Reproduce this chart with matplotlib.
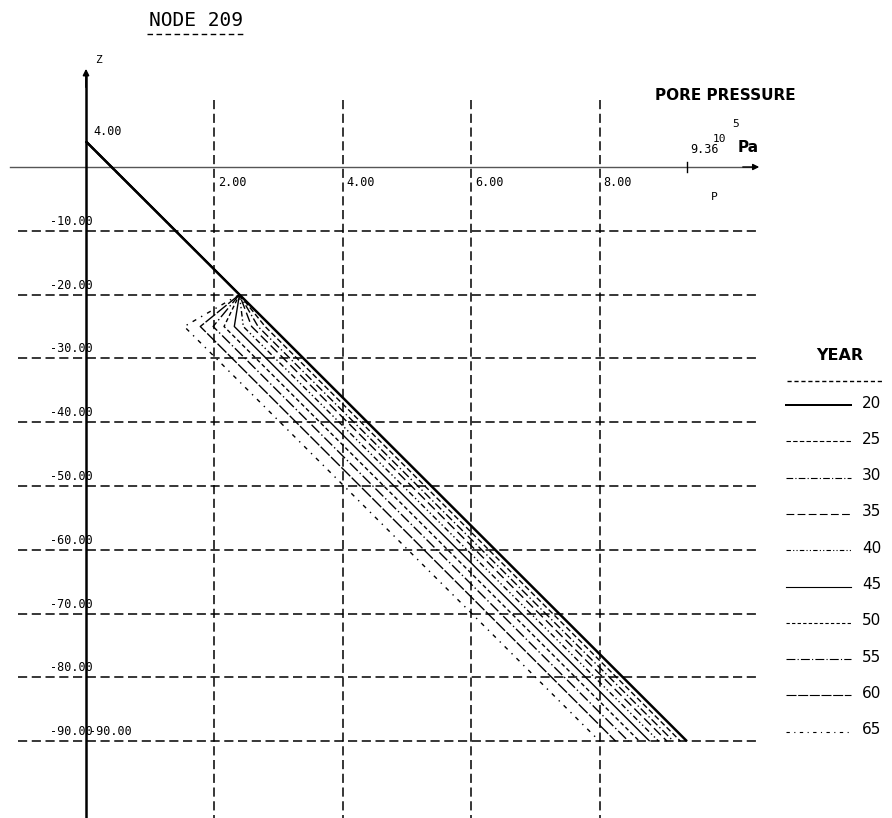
import matplotlib
matplotlib.use("Agg")
import matplotlib.pyplot as plt

# ---------------- data ----------------
years = [20, 25, 30, 35, 40, 45, 50, 55, 60, 65]
z_levels = [4.0, -20.0, -25.0, -90.0]
p_top = 0.0          # pressure at z = 4
p_apex = 2.39        # pressure at z = -20 (common to all years)
p_knee = [2.89, 2.79, 2.68, 2.58, 2.45, 2.31, 2.15, 1.98, 1.78, 1.53]   # at z = -25
p_bottom = [9.36, 9.26, 9.15, 9.05, 8.92, 8.78, 8.62, 8.45, 8.25, 8.00]  # at z = -90
x_ticks = [2.0, 4.0, 6.0, 8.0]
x_tick_labels = ["2.00", "4.00", "6.00", "8.00"]
z_ticks = [-10, -20, -30, -40, -50, -60, -70, -80, -90]
z_tick_labels = ["-10.00", "-20.00", "-30.00", "-40.00", "-50.00",
                 "-60.00", "-70.00", "-80.00", "-90.00"]
p_max_label = "9.36"
p_max = 9.36
z_top_label = "4.00"

styles = ["-", (0, (4, 2)), (0, (6, 2, 1, 2)), (0, (7, 3)), (0, (4, 2, 1, 2, 1, 2)),
          "-", (0, (3, 2)), (0, (8, 2, 1, 2)), (0, (9, 1.5)), (0, (3, 4, 1, 4))]
widths = [1.8, 1.0, 1.0, 1.0, 1.0, 1.0, 1.0, 1.0, 1.0, 1.0]

# ---------------- figure ----------------
W, H = 892, 818
fig = plt.figure(figsize=(W / 100, H / 100), dpi=100)
ax = fig.add_axes([0, 0, 1, 1])
ax.set_axis_off()

X0, SX = 86.0, 64.2    # px of p=0, px per unit p
Y0, SY = 167.0, 6.38   # px of z=0, px per unit z
ax.set_xlim(-X0 / SX, (W - X0) / SX)
ax.set_ylim((Y0 - H) / SY, Y0 / SY)

def px2p(x):
    return (x - X0) / SX

def py2z(y):
    return (Y0 - y) / SY

grid_kw = dict(color="black", lw=1.1, ls=(0, (6, 3)))
for z in z_ticks:
    ax.plot([px2p(18), px2p(760)], [z, z], **grid_kw)
for p in x_ticks:
    ax.plot([p, p], [py2z(100), py2z(H)], **grid_kw)

# axes
ax.plot([px2p(10), px2p(755)], [0, 0], color="#555555", lw=1.0)
ax.annotate("", xy=(px2p(762), 0), xytext=(px2p(740), 0),
            arrowprops=dict(arrowstyle="-|>", color="black", lw=1.0,
                            mutation_scale=9))
ax.plot([0, 0], [py2z(H), py2z(75)], color="black", lw=1.8)
ax.annotate("", xy=(0, py2z(66)), xytext=(0, py2z(90)),
            arrowprops=dict(arrowstyle="-|>", color="black", lw=1.2,
                            mutation_scale=9))
ax.plot([p_max, p_max], [py2z(162), py2z(172)], color="black", lw=1.0)

# profiles
for i, y in enumerate(years):
    ps = [p_top, p_apex, p_knee[i], p_bottom[i]]
    ax.plot(ps, z_levels, color="black", lw=widths[i], ls=styles[i],
            solid_capstyle="butt", zorder=3)

# tick labels
MONO = "DejaVu Sans Mono"
fs = 8.5
for z, lab in zip(z_ticks, z_tick_labels):
    ax.annotate(lab, (0, z), xytext=(7, 3), textcoords="offset pixels",
                ha="right", va="bottom", fontsize=fs, family=MONO)
ax.annotate("-90.00", (0, -90), xytext=(3, 3), textcoords="offset pixels",
            ha="left", va="bottom", fontsize=fs, family=MONO)
for p, lab in zip(x_ticks, x_tick_labels):
    ax.annotate(lab, (p, 0), xytext=(4, -15), textcoords="offset pixels",
                ha="left", va="center", fontsize=fs, family=MONO)
ax.annotate(z_top_label, (0, z_levels[0]), xytext=(7, 10), textcoords="offset pixels",
            ha="left", va="center", fontsize=fs, family=MONO)
ax.annotate(p_max_label, (p_max, 0), xytext=(3, 11), textcoords="offset pixels",
            ha="left", va="bottom", fontsize=fs, family=MONO)

def ftext(x, y, s, **kw):
    fig.text(x / W, 1 - y / H, s, **kw)

ftext(95, 60, "Z", fontsize=8, ha="left", va="center", family=MONO)
ftext(711, 197, "P", fontsize=8, ha="left", va="center", family=MONO)
ftext(725, 95, "PORE PRESSURE", fontsize=11, weight="bold", ha="center", va="center")
ftext(713, 139, "10", fontsize=8, ha="left", va="center", family=MONO)
ftext(732, 124, "5", fontsize=8, ha="left", va="center", family=MONO)
ftext(738, 148, "Pa", fontsize=11, weight="bold", ha="left", va="center")
ftext(196, 20, "NODE 209", fontsize=14, ha="center", va="center", family=MONO)
fig.add_artist(plt.Line2D([147 / W, 246 / W], [1 - 34 / H, 1 - 34 / H],
                          color="black", lw=1.0, ls=(0, (4, 2.5))))

# legend
ftext(840, 356, "YEAR", fontsize=11.5, weight="bold", ha="center", va="center")
fig.add_artist(plt.Line2D([787 / W, 884 / W], [1 - 381 / H, 1 - 381 / H],
                          color="black", lw=1.0, ls=(0, (3, 2))))
for i, y in enumerate(years):
    yy = 403 + i * 36.3
    fig.add_artist(plt.Line2D([786 / W, 851 / W], [1 - (yy + 2) / H, 1 - (yy + 2) / H],
                              color="black", lw=widths[i] * 0.8, ls=styles[i]))
    ftext(862, yy, str(y), fontsize=11, ha="left", va="center")

fig.savefig("out.png", dpi=100)
